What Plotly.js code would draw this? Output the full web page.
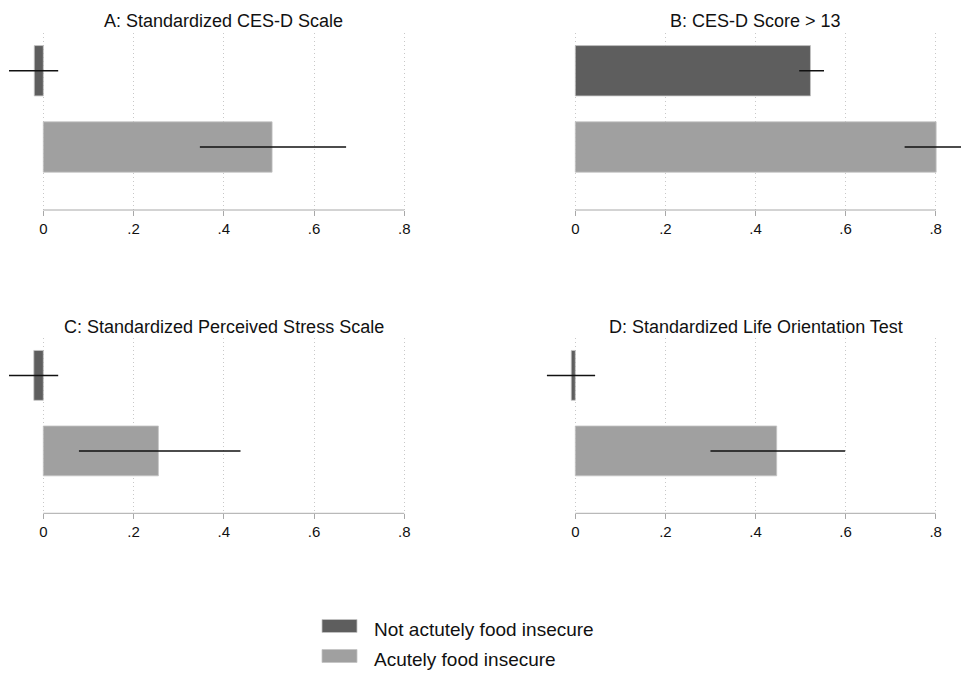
<!DOCTYPE html>
<html>
<head>
<meta charset="utf-8">
<script src="https://cdn.plot.ly/plotly-3.0.1.min.js"></script>
<style>html,body{margin:0;padding:0;background:#fff;}#chart{width:961px;height:673px;}</style>
</head>
<body>
<div id="chart"></div>
<script>
// ---- data ----
const panelTitles = ["A: Standardized CES-D Scale", "B: CES-D Score > 13",
                     "C: Standardized Perceived Stress Scale", "D: Standardized Life Orientation Test"];
const groups = ["Not actutely food insecure", "Acutely food insecure"];
// values per panel (A, B, C, D)
const notInsecureVal = [-0.020, 0.522, -0.021, -0.009];
const notInsecureLo  = [-0.076, 0.497, -0.076, -0.063];
const notInsecureHi  = [ 0.033, 0.552,  0.033,  0.044];
const insecureVal    = [0.507, 0.801, 0.255, 0.447];
const insecureLo     = [0.347, 0.731, 0.079, 0.300];
const insecureHi     = [0.671, 0.871, 0.437, 0.599];
const tickVals  = [0, 0.2, 0.4, 0.6, 0.8];
const tickTexts = ["0", ".2", ".4", ".6", ".8"];

// ---- styling / layout ----
const W = 961, H = 673;
const darkCol = "#5e5e5e", lightCol = "#a0a0a0";
const font = "Liberation Sans, Arial, Helvetica, sans-serif";

// pixel geometry for each panel: domain px, pixel of 0 and .8
const geom = [
  {d0: 0,   d1: 480, p0: 43.3,  p8: 404.3, top: 33,  bot: 210,   ty: 21},
  {d0: 530, d1: 961, p0: 575.3, p8: 935.7, top: 33,  bot: 210,   ty: 21},
  {d0: 0,   d1: 480, p0: 43.3,  p8: 404.3, top: 338, bot: 513.3, ty: 327},
  {d0: 530, d1: 961, p0: 575.3, p8: 935.7, top: 338, bot: 513.3, ty: 327}
];
const yRange = [-0.826, 1.495];

const data = [];
const layout = {
  width: W, height: H,
  margin: {l: 0, r: 0, t: 0, b: 0},
  paper_bgcolor: "#fff", plot_bgcolor: "rgba(0,0,0,0)",
  showlegend: false,
  barmode: "overlay",
  font: {family: font, color: "#111"},
  shapes: [], annotations: []
};

for (let i = 0; i < 4; i++) {
  const g = geom[i];
  const sfx = i === 0 ? "" : String(i + 1);
  const xa = "x" + sfx, ya = "y" + sfx;
  const ppu = (g.p8 - g.p0) / 0.8;
  const xr = [(g.d0 - g.p0) / ppu, (g.d1 - g.p0) / ppu];

  [[notInsecureVal, notInsecureLo, notInsecureHi, darkCol, 1, groups[0]],
   [insecureVal, insecureLo, insecureHi, lightCol, 0, groups[1]]].forEach(s => {
    const v = s[0][i];
    data.push({
      type: "bar", orientation: "h",
      x: [v], y: [s[4]], width: 0.66, name: s[5],
      xaxis: xa, yaxis: ya,
      marker: {color: s[3], line: {color: "#c4c4c4", width: 0.8}},
      error_x: {type: "data", symmetric: false,
                array: [s[2][i] - v], arrayminus: [v - s[1][i]],
                color: "#111", thickness: 1.5, width: 0},
      hoverinfo: "skip"
    });
  });

  layout["xaxis" + sfx] = {
    domain: [g.d0 / W, g.d1 / W], range: xr, anchor: ya,
    tickmode: "array", tickvals: tickVals, ticktext: tickTexts,
    showgrid: true, gridcolor: "#c8c8c8", griddash: "1px,3px", gridwidth: 1,
    zeroline: false, showline: false,
    ticks: "outside", ticklen: 5, tickcolor: "#a8a8a8", tickwidth: 1,
    tickfont: {size: 15, color: "#111", family: font},
    fixedrange: true
  };
  layout["yaxis" + sfx] = {
    domain: [1 - g.bot / H, 1 - g.top / H], range: yRange, anchor: xa,
    showgrid: false, zeroline: false, showline: false, showticklabels: false,
    ticks: "", fixedrange: true
  };
  // axis line from 0 to .8
  layout.shapes.push({type: "line", xref: xa, yref: ya + " domain",
    x0: tickVals[0], x1: tickVals[tickVals.length - 1], y0: 0, y1: 0,
    line: {color: "#a8a8a8", width: 1}});
  // panel title
  layout.annotations.push({text: panelTitles[i], xref: "paper", yref: "paper",
    x: ((g.p0 + g.p8) / 2) / W, y: 1 - g.ty / H,
    xanchor: "center", yanchor: "middle", showarrow: false,
    font: {size: 18, color: "#111", family: font}});
}

// legend (drawn manually to match swatch size)
const legRows = [{y: 626, col: darkCol}, {y: 656, col: lightCol}];
legRows.forEach((r, k) => {
  layout.shapes.push({type: "rect", xref: "paper", yref: "paper",
    x0: 322 / W, x1: 357 / W, y0: 1 - (r.y + 6.5) / H, y1: 1 - (r.y - 6.5) / H,
    fillcolor: r.col, line: {color: "#c4c4c4", width: 0.8}});
  layout.annotations.push({text: groups[k], xref: "paper", yref: "paper",
    x: 372 / W, y: 1 - (r.y + 3) / H, xanchor: "left", yanchor: "middle",
    showarrow: false, font: {size: 19, color: "#111", family: font}});
});

Plotly.newPlot("chart", data, layout, {displayModeBar: false, staticPlot: true});
</script>
</body>
</html>
